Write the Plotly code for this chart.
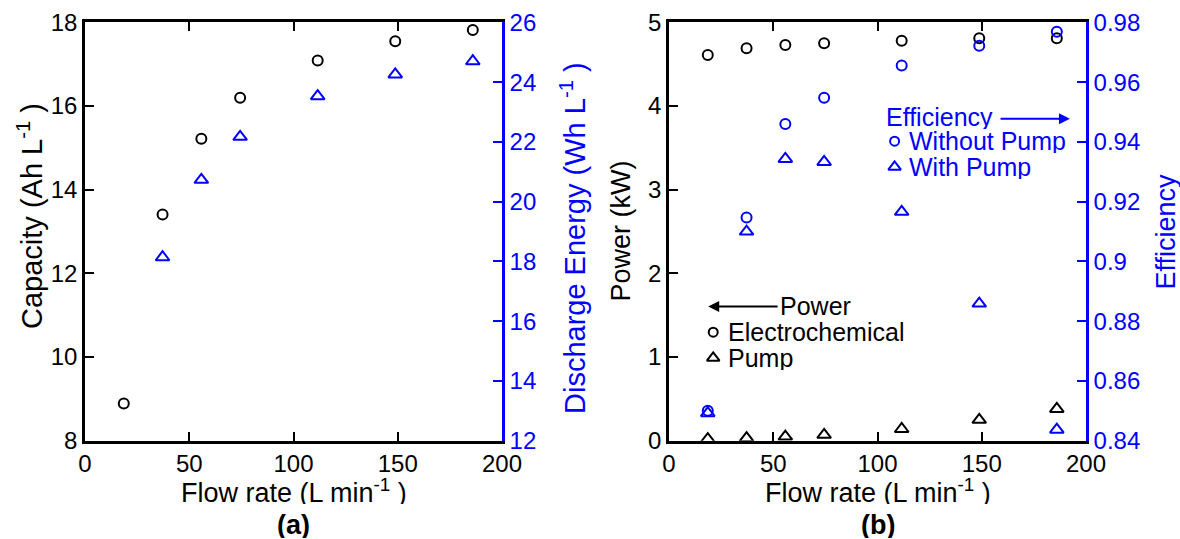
import plotly.graph_objects as go

# ---------------- data ----------------
flow = [18.6, 37.2, 55.8, 74.4, 111.6, 148.8, 186.0]
capacity = [8.89, 13.41, 15.22, 16.20, 17.09, 17.55, 17.82]
flow_energy = [37.2, 55.8, 74.4, 111.6, 148.8, 186.0]
energy = [18.14, 20.73, 22.17, 23.53, 24.26, 24.70]

power_electro = [4.61, 4.69, 4.73, 4.75, 4.78, 4.81, 4.81]
power_pump = [0.02, 0.03, 0.05, 0.07, 0.14, 0.25, 0.38]
eff_without = [0.850, 0.9147, 0.946, 0.9548, 0.9656, 0.9722, 0.9769]
eff_with = [0.8492, 0.910, 0.9343, 0.9333, 0.9166, 0.8859, 0.8437]

x_ticks = [0, 50, 100, 150, 200]
cap_ticks = [8, 10, 12, 14, 16, 18]
energy_ticks = [12, 14, 16, 18, 20, 22, 24, 26]
power_ticks = [0, 1, 2, 3, 4, 5]
eff_ticks = [0.84, 0.86, 0.88, 0.90, 0.92, 0.94, 0.96, 0.98]
eff_labels = ["0.84", "0.86", "0.88", "0.9", "0.92", "0.94", "0.96", "0.98"]

BLUE = "#0000FF"
BLACK = "#000000"
FONT = "Liberation Sans, Arial, sans-serif"
TFS = 24   # tick labels
AFS = 27   # axis titles
LF = 25    # legend text

W, H = 1180, 539
X1 = [85 / W, 502 / W]
X2 = [669 / W, 1086 / W]
YD = [1 - 440.7 / H, 1 - 22.4 / H]

fig = go.Figure()

circ = dict(symbol="circle-open", size=10, line=dict(width=2))
tri = dict(symbol="triangle-up-open", size=12, line=dict(width=2))

# panel (a)
fig.add_trace(go.Scatter(x=flow, y=capacity, mode="markers", xaxis="x", yaxis="y",
                         marker=dict(color=BLACK, **circ), showlegend=False))
fig.add_trace(go.Scatter(x=flow_energy, y=energy, mode="markers", xaxis="x", yaxis="y2",
                         marker=dict(color=BLUE, **tri), showlegend=False))
# panel (b)
fig.add_trace(go.Scatter(x=flow, y=power_electro, mode="markers", xaxis="x2", yaxis="y3",
                         marker=dict(color=BLACK, **circ), showlegend=False))
fig.add_trace(go.Scatter(x=flow, y=power_pump, mode="markers", xaxis="x2", yaxis="y3",
                         marker=dict(color=BLACK, **tri), showlegend=False))
fig.add_trace(go.Scatter(x=flow, y=eff_without, mode="markers", xaxis="x2", yaxis="y4",
                         marker=dict(color=BLUE, **circ), showlegend=False))
fig.add_trace(go.Scatter(x=flow, y=eff_with, mode="markers", xaxis="x2", yaxis="y4",
                         marker=dict(color=BLUE, **tri), showlegend=False))

# legend glyphs (panel b, in x2 / y3 coordinates)
lg_circ = dict(symbol="circle-open", size=9, line=dict(width=2))
lg_tri = dict(symbol="triangle-up-open", size=11, line=dict(width=2))
fig.add_trace(go.Scatter(x=[21.2], y=[1.297], mode="markers", xaxis="x2", yaxis="y3",
                         marker=dict(color=BLACK, **lg_circ), showlegend=False, hoverinfo="skip"))
fig.add_trace(go.Scatter(x=[21.2], y=[0.989], mode="markers", xaxis="x2", yaxis="y3",
                         marker=dict(color=BLACK, **lg_tri), showlegend=False, hoverinfo="skip"))
fig.add_trace(go.Scatter(x=[108.2], y=[3.580], mode="markers", xaxis="x2", yaxis="y3",
                         marker=dict(color=BLUE, **lg_circ), showlegend=False, hoverinfo="skip"))
fig.add_trace(go.Scatter(x=[108.2], y=[3.272], mode="markers", xaxis="x2", yaxis="y3",
                         marker=dict(color=BLUE, **lg_tri), showlegend=False, hoverinfo="skip"))

axis_common = dict(showline=True, linewidth=2.5, ticks="inside", ticklen=9, tickwidth=2,
                   showgrid=False, zeroline=False, automargin=False,
                   tickfont=dict(family=FONT, size=TFS))

fig.update_layout(
    width=W, height=H,
    margin=dict(l=0, r=0, t=0, b=0),
    paper_bgcolor="white", plot_bgcolor="white",
    font=dict(family=FONT, size=TFS, color=BLACK),
    xaxis=dict(domain=X1, range=[0, 200], tickvals=x_ticks, anchor="y", mirror="ticks",
               linecolor=BLACK, tickcolor=BLACK, **axis_common),
    yaxis=dict(domain=YD, range=[8, 18], tickvals=cap_ticks, anchor="x",
               linecolor=BLACK, tickcolor=BLACK, **axis_common),
    yaxis2=dict(domain=YD, range=[12, 26], tickvals=energy_ticks, anchor="x", overlaying="y",
                side="right", linecolor=BLUE, tickcolor=BLUE, color=BLUE, **axis_common),
    xaxis2=dict(domain=X2, range=[0, 200], tickvals=x_ticks, anchor="y3", mirror="ticks",
                linecolor=BLACK, tickcolor=BLACK, **axis_common),
    yaxis3=dict(domain=YD, range=[0, 5], tickvals=power_ticks, anchor="x2",
                linecolor=BLACK, tickcolor=BLACK, **axis_common),
    yaxis4=dict(domain=YD, range=[0.84, 0.98], tickvals=eff_ticks, ticktext=eff_labels,
                anchor="x2", overlaying="y3", side="right",
                linecolor=BLUE, tickcolor=BLUE, color=BLUE, **axis_common),
)

YC = (440.7 + 22.4) / 2


def ptxt(text, x, y, color=BLACK, size=AFS, angle=0, **kw):
    return dict(text=text, xref="paper", yref="paper", x=x / W, y=1 - y / H,
                xanchor="center", yanchor="middle", showarrow=False, textangle=angle,
                font=dict(size=size, family=FONT, color=color), **kw)


ann = []
# axis titles
ann.append(ptxt("Flow rate (L min<sup>-1</sup> )", (85 + 502) / 2, 491, height=26))
ann.append(ptxt("Flow rate (L min<sup>-1</sup> )", (669 + 1086) / 2, 491, height=26))
ann.append(ptxt("Capacity (Ah L<sup>-1</sup> )", 30, 216, size=29, angle=-90))
ann.append(ptxt("Discharge Energy (Wh L<sup>-1</sup> )", 573, 238, color=BLUE, size=29, angle=-90))
ann.append(ptxt("Power (kW)", 621, YC, angle=-90))
ann.append(ptxt("Efficiency", 1166, YC, color=BLUE, angle=-90))
# panel labels
ann.append(ptxt("<b>(a)</b>", (85 + 502) / 2, 525, height=26))
ann.append(ptxt("<b>(b)</b>", (669 + 1086) / 2, 525, height=26))


def leg(text, x, y, color):
    return dict(text=text, xref="x2", yref="y3", x=x, y=y, xanchor="left", yanchor="middle",
                showarrow=False, height=24, font=dict(size=LF, family=FONT, color=color))


# power legend
ann.append(dict(text="", xref="x2", yref="y3", x=18.8, y=1.605, axref="x2", ayref="y3",
                ax=52.8, ay=1.605, showarrow=True, arrowhead=2, arrowsize=1.1, arrowwidth=2,
                arrowcolor=BLACK))
ann.append(leg("Power", 52.3, 1.605, BLACK))
ann.append(leg("Electrochemical", 27.3, 1.297, BLACK))
ann.append(leg("Pump", 27.3, 0.989, BLACK))
# efficiency legend
ann.append(leg("Efficiency", 102.9, 3.869, BLUE))
ann.append(dict(text="", xref="x2", yref="y3", x=192.3, y=3.848, axref="x2", ayref="y3",
                ax=158.3, ay=3.848, showarrow=True, arrowhead=2, arrowsize=1.1, arrowwidth=2,
                arrowcolor=BLUE))
ann.append(leg("Without Pump", 114.1, 3.580, BLUE))
ann.append(leg("With Pump", 114.1, 3.272, BLUE))
fig.update_layout(annotations=ann)

fig.write_html("out.html")
